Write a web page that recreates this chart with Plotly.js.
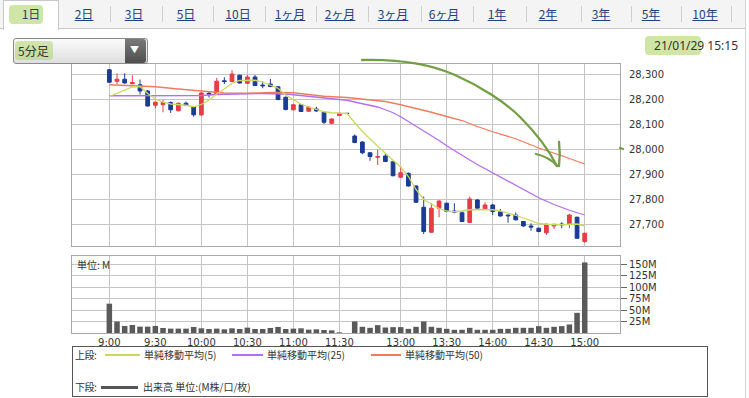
<!DOCTYPE html>
<html>
<head>
<meta charset="utf-8">
<script src="https://cdn.plot.ly/plotly-3.0.1.min.js"></script>
<style>
  html, body { margin:0; padding:0; background:#fff; }
  body { width:749px; height:398px; position:relative; overflow:hidden; font-family:"Noto Sans CJK JP","Noto Sans",sans-serif; }
  #chart { position:absolute; left:0; top:0; width:749px; height:398px; z-index:1; }
  .ov { position:absolute; z-index:3; white-space:nowrap; }
  .tab { position:absolute; top:5px; font-size:12px; line-height:18px; color:#24407f; text-decoration:underline; transform:translateX(-50%); z-index:4; }
  .sep { position:absolute; top:6px; width:1px; height:16px; background:#d0d0d0; z-index:3; }
  .hl { position:absolute; background:rgba(170,210,95,0.55); border-radius:4px; z-index:2; }
  .lg { position:absolute; font-size:10px; color:#333; line-height:12px; z-index:4; }
</style>
</head>
<body>
<div id="chart"></div>

<!-- header -->
<div class="ov" style="left:0;top:0;width:745px;height:28px;background:#f4f4f4;border-bottom:1px solid #c8c8c8;z-index:2"></div>
<div class="ov" style="left:3px;top:0;width:54px;height:29px;background:#fff;border:1px solid #c8c8c8;border-bottom:none;z-index:2"></div>
<div class="hl" style="left:9px;top:5px;width:34px;height:19px;"></div>
<div id="tabs"></div>
<div class="ov" style="left:745px;top:0;width:1px;height:398px;background:#d4d4d4"></div>

<div class="ov" style="left:13px;top:38px;width:133px;height:24px;border:1px solid #8a8a8a;border-radius:3px;background:linear-gradient(#fbfbfb,#dedede);"></div>
<div class="hl" style="left:15px;top:41px;width:38px;height:19px;z-index:4;background:rgba(170,210,95,0.5)"></div>
<div class="ov" style="left:18px;top:41px;font-size:12px;line-height:19px;color:#333;z-index:5">5分足</div>
<div class="ov" style="left:125px;top:39px;width:21px;height:24px;background:linear-gradient(#7a7a7a,#4e4e4e);border-radius:0 3px 3px 0;z-index:4"></div>
<div class="ov" style="left:130px;top:43px;font-size:9px;line-height:14px;color:#fff;z-index:5">▼</div>

<div class="hl" style="left:645px;top:36px;width:56px;height:19px;"></div>
<div class="ov" style="right:11px;top:36px;font-size:12px;line-height:19px;color:#333;font-family:'Noto Sans',sans-serif">21/01/29 15:15</div>

<!-- volume unit label -->
<div class="ov" style="left:77px;top:258px;font-size:10px;line-height:13px;color:#333">単位: M</div>

<!-- legend -->
<div class="ov" style="left:72px;top:346px;width:634px;height:49px;border:1px solid #555;background:#fff;z-index:2"></div>
<div class="lg" style="left:75px;top:349px;letter-spacing:-0.5px">上段:</div>
<div class="ov" style="left:105px;top:354px;width:35px;height:2px;background:#c9d862"></div>
<div class="lg" style="left:144px;top:349px">単純移動平均(5)</div>
<div class="ov" style="left:232px;top:354px;width:31px;height:2px;background:#b46ef0"></div>
<div class="lg" style="left:267px;top:349px">単純移動平均(25)</div>
<div class="ov" style="left:371px;top:354px;width:30px;height:2px;background:#ee7d5e"></div>
<div class="lg" style="left:405px;top:349px">単純移動平均(50)</div>
<div class="lg" style="left:75px;top:381px;letter-spacing:-0.5px">下段:</div>
<div class="ov" style="left:101px;top:386px;width:37px;height:3px;background:#555"></div>
<div class="lg" style="left:143px;top:381px">出来高 単位:(M株/口/枚)</div>

<!-- hand drawn arrow -->
<svg class="ov" style="left:0;top:0;z-index:6" width="749" height="398">
  <g fill="none" stroke="#6d9a3c" stroke-width="2.3" stroke-linecap="round" stroke-linejoin="round" opacity="0.95">
    <path d="M362,60 C400,59 430,64 455,75 C480,86 505,102 520,117 C535,132 548,148 557,166"/>
    <path d="M536,154 C545,156 552,160 557,166"/>
    <path d="M559,142 C560,150 560,158 559,166"/>
    <path d="M620,148 L623,149"/>
  </g>
</svg>

<script>
// ---- data ----
const times = ["9:00","9:05","9:10","9:15","9:20","9:25","9:30","9:35","9:40","9:45","9:50","9:55",
  "10:00","10:05","10:10","10:15","10:20","10:25","10:30","10:35","10:40","10:45","10:50","10:55",
  "11:00","11:05","11:10","11:15","11:20","11:25","11:30","12:25",
  "12:30","12:35","12:40","12:45","12:50","12:55","13:00","13:05","13:10","13:15","13:20","13:25",
  "13:30","13:35","13:40","13:45","13:50","13:55","14:00","14:05","14:10","14:15","14:20","14:25",
  "14:30","14:35","14:40","14:45","14:50","14:55","15:00"];

const openP = [28317,28271,28279,28261,28257,28232,28175,28177,28186,28153,28183,28168,
  28136,28223,28220,28273,28270,28295,28263,28288,28256,28260,28249,28207,
  28157,28177,28151,28160,28147,28103,28134,28143,
  28052,28028,27985,27967,27972,27949,27887,27903,27852,27767,27667,27763,
  27783,27752,27745,27706,27796,27760,27776,27749,27736,27736,27710,27692,
  27683,27665,27692,27700,27699,27727,27630];
const highP = [28320,28303,28303,28295,28278,28236,28190,28196,28190,28186,28190,28171,
  28228,28232,28284,28287,28315,28298,28296,28296,28270,28280,28252,28210,
  28180,28179,28172,28169,28150,28123,28145,28144,
  28058,28031,27987,27996,27983,27951,27929,27906,27855,27810,27783,27795,
  27786,27783,27750,27810,27800,27787,27780,27760,27737,27746,27712,27703,
  27686,27702,27700,27707,27740,27730,27665];
const lowP = [28265,28260,28262,28259,28218,28170,28162,28147,28144,28150,28171,28129,
  28134,28206,28218,28260,28268,28262,28260,28252,28243,28247,28195,28155,
  28155,28148,28149,28149,28100,28099,28132,28141,
  28023,27979,27953,27936,27948,27891,27885,27850,27785,27660,27665,27727,
  27748,27743,27708,27704,27760,27757,27736,27730,27705,27714,27690,27673,
  27667,27656,27680,27683,27683,27640,27625];
const closeP = [28267,28279,28264,28266,28232,28172,28187,28186,28157,28183,28174,28137,
  28224,28219,28271,28270,28300,28264,28288,28254,28253,28250,28198,28158,
  28177,28150,28167,28152,28107,28120,28143,28142,
  28026,27985,27970,27970,27950,27893,27905,27852,27787,27670,27763,27792,
  27750,27748,27710,27800,27763,27776,27750,27732,27733,27717,27692,27688,
  27670,27699,27699,27697,27736,27643,27663];

// volume in millions
const volume = [64,25,15.4,17.5,13.9,13.9,15.4,11,9.5,9.5,9.5,13.2,
  10.2,8.8,9.5,8,10.2,8.8,11.7,8.8,8.8,11,13.2,8.8,
  9.5,10.2,7.3,8,6.6,5.8,1.5,0,
  25.2,13.5,11.3,17.2,12,12.8,12.8,9.1,13.5,25.2,13.5,11.3,
  9.1,7,7,11.3,7,7,7,9.1,9.1,11.3,11.3,11.3,
  15,11.3,13.5,15,18.6,44,154];

const sma5 = [28210,28222,28235,28248,28250,28222,28200,28187,28180,28178,28175,28169,
  28178,28196,28220,28240,28263,28274,28276,28275,28268,28257,28243,28216,
  28196,28179,28168,28157,28149,28145,28143,28142,
  28105,28070,28040,28010,27983,27955,27928,27890,27838,27798,27781,27762,
  27752,27749,27752,27757,27758,27759,27757,27752,27744,27735,27724,27713,
  27702,27699,27697,27697,27699,27700,27692];

const sma25Times = ["9:00","10:00","10:10","10:40","10:55","11:10","11:25","12:25","12:35","12:45","12:50","12:55",
  "13:00","13:05","13:10","13:15","13:20","13:25","13:30","13:35","13:40","13:45","13:50","13:55",
  "14:00","14:10","14:20","14:30","14:40","14:50","15:00"];
const sma25 = [28213,28214,28218,28222,28220,28211,28203,28195,28181,28168,28157,28145,
  28129,28110,28093,28075,28055,28034,28013,27993,27973,27956,27938,27921,
  27904,27870,27836,27805,27778,27755,27736];

const sma50Times = ["9:00","9:20","9:30","9:45","10:00","10:15","10:30","10:45","11:00","11:10","11:20","12:25",
  "12:40","12:50","13:00","13:10","13:20","13:30","13:40","13:50","14:00","14:15","14:30","14:45","15:00"];
const sma50 = [28257,28253,28249,28240,28231,28224,28223,28226,28225,28217,28211,28206,
  28198,28190,28177,28163,28147,28130,28114,28090,28069,28041,28004,27973,27940];

const xTicks = ["9:00","9:30","10:00","10:30","11:00","11:30","13:00","13:30","14:00","14:30","15:00"];
const priceTicks = [27700,27800,27900,28000,28100,28200,28300];
const volTicks = [25,50,75,100,125,150];

const tabs = ["1日","2日","3日","5日","10日","1ヶ月","2ヶ月","3ヶ月","6ヶ月","1年","2年","3年","5年","10年"];

// ---- header tabs ----
const tabX = [31,84,134,186,238,290,340,393,444,497,548,601,651,705];
const sepX = [110,162,213,265,316,368,421,473,526,581,631,681,731];
const tabsDiv = document.getElementById('tabs');
tabs.forEach((t,i)=>{
  const d = document.createElement('div');
  d.className = 'tab';
  d.style.left = tabX[i] + 'px';
  d.textContent = t;
  if (i === 0) { d.style.textDecoration = 'none'; d.style.color = '#2b3f66'; }
  tabsDiv.appendChild(d);
});
sepX.forEach(x=>{
  const s = document.createElement('div');
  s.className = 'sep';
  s.style.left = x + 'px';
  tabsDiv.appendChild(s);
});

// ---- chart ----
const RED = '#e63c46', BLUE = '#1c3b94';
const traces = [
  {type:'candlestick', x:times, open:openP, high:highP, low:lowP, close:closeP,
   xaxis:'x', yaxis:'y', whiskerwidth:0,
   increasing:{line:{color:RED,width:1}, fillcolor:RED},
   decreasing:{line:{color:BLUE,width:1}, fillcolor:BLUE},
   showlegend:false, hoverinfo:'skip'},
  {type:'scatter', mode:'lines', x:sma50Times, y:sma50, xaxis:'x', yaxis:'y',
   line:{color:'#ee7d5e', width:1.3}, showlegend:false, hoverinfo:'skip'},
  {type:'scatter', mode:'lines', x:sma25Times, y:sma25, xaxis:'x', yaxis:'y',
   line:{color:'#b46ef0', width:1.3}, showlegend:false, hoverinfo:'skip'},
  {type:'scatter', mode:'lines', x:times, y:sma5, xaxis:'x', yaxis:'y',
   line:{color:'#c9d862', width:1.3}, showlegend:false, hoverinfo:'skip'},
  {type:'bar', x:times, y:volume, xaxis:'x', yaxis:'y2',
   marker:{color:'#5a5a5a'}, showlegend:false, hoverinfo:'skip'}
];

const tickFont = {family:'DejaVu Sans, sans-serif', size:10, color:'#333'};
const layout = {
  width:749, height:398,
  margin:{l:72, r:129, t:64, b:65, pad:0},
  paper_bgcolor:'rgba(0,0,0,0)', plot_bgcolor:'#fff',
  showlegend:false, bargap:0.28, boxgap:0.3,
  xaxis:{type:'category', categoryorder:'array', categoryarray:times,
    range:[-4.87, 66.6], anchor:'y2', tickmode:'array', tickvals:xTicks, ticktext:xTicks,
    showgrid:true, gridcolor:'#c4c4c4', gridwidth:1, showline:true, linecolor:'#a8a8a8', linewidth:1, mirror:'all',
    ticks:'', tickfont:tickFont, rangeslider:{visible:false}, fixedrange:true},
  yaxis:{domain:[0.3234,1], range:[27612,28340], side:'right', tickmode:'array',
    tickvals:priceTicks, ticktext:priceTicks.map(v=>v.toLocaleString('en-US')),
    showgrid:true, gridcolor:'#c4c4c4', showline:true, linecolor:'#a8a8a8', mirror:true,
    ticks:'outside', ticklen:6, tickcolor:'rgba(0,0,0,0)', zeroline:false, tickfont:tickFont},
  yaxis2:{domain:[0,0.2862], range:[0,168], side:'right', tickmode:'array',
    tickvals:volTicks, ticktext:volTicks.map(v=>v+'M'),
    showgrid:true, gridcolor:'#c4c4c4', showline:true, linecolor:'#a8a8a8', mirror:true,
    ticks:'outside', ticklen:6, tickcolor:'#666', zeroline:false, tickfont:tickFont}
};

Plotly.newPlot('chart', traces, layout, {staticPlot:true, displayModeBar:false});
</script>
</body>
</html>
